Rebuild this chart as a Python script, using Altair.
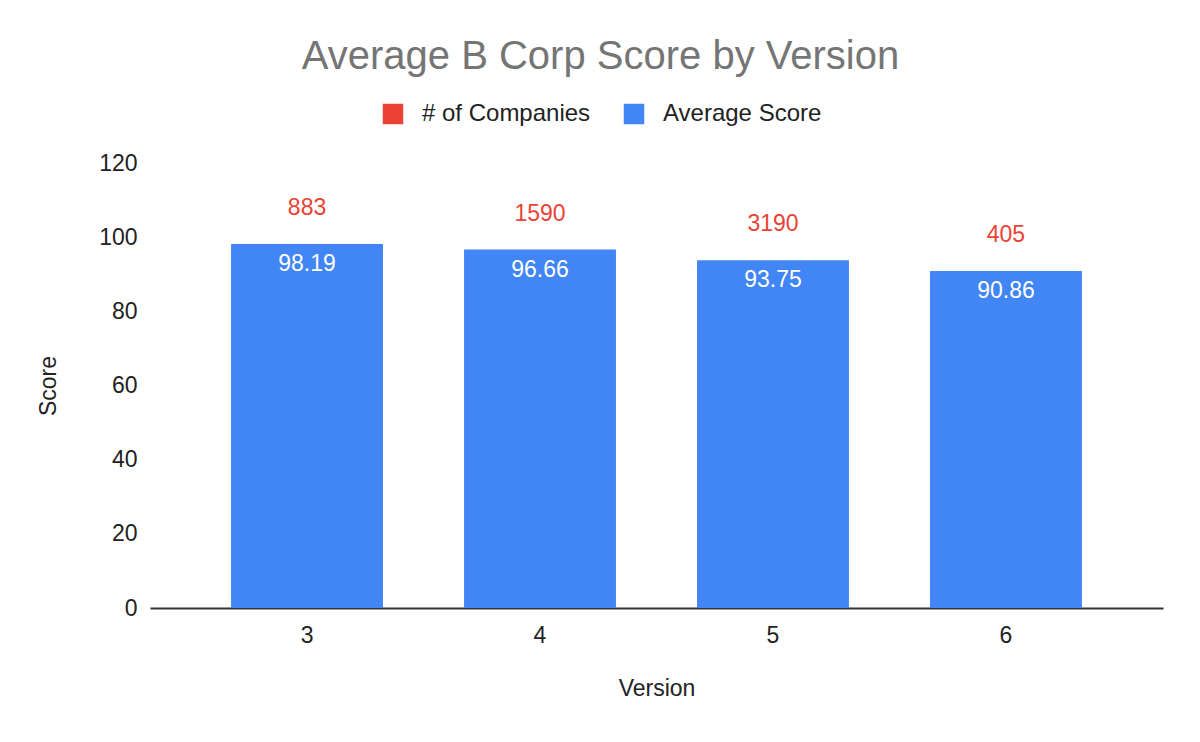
import altair as alt
import pandas as pd

versions = ["3", "4", "5", "6"]
avg_score = [98.19, 96.66, 93.75, 90.86]
companies = [883, 1590, 3190, 405]
series_names = ["# of Companies", "Average Score"]
series_colors = ["#EA4335", "#4285F4"]
y_ticks = [0, 20, 40, 60, 80, 100, 120]

df = pd.DataFrame({
    "Version": versions,
    "Score": avg_score,
    "ScoreLabel": [f"{v:.2f}" for v in avg_score],
    "Companies": [str(c) for c in companies],
    "Series": ["Average Score"] * len(versions),
})

FONT = "Liberation Sans"

x_enc = alt.X(
    "Version:N",
    sort=versions,
    scale=alt.Scale(paddingInner=0.348, paddingOuter=0.348),
    axis=alt.Axis(
        title="Version", labelAngle=0, ticks=False, labelPadding=16,
        labelFontSize=23, labelColor="#222222", labelFont=FONT,
        titleFontSize=23, titleColor="#222222", titleFont=FONT,
        titleFontWeight="normal", titlePadding=30,
        domainColor="#333333", domainWidth=2, grid=False,
    ),
)
y_enc = alt.Y(
    "Score:Q",
    scale=alt.Scale(domain=[0, 120], nice=False),
    axis=alt.Axis(
        title="Score", values=y_ticks, ticks=False, domain=False, grid=False,
        labelPadding=13, labelFontSize=23, labelColor="#222222", labelFont=FONT,
        titleFontSize=23, titleColor="#222222", titleFont=FONT,
        titleFontWeight="normal", titlePadding=38,
    ),
)

bars = alt.Chart(df).mark_bar().encode(
    x=x_enc,
    y=y_enc,
    color=alt.Color(
        "Series:N",
        scale=alt.Scale(domain=series_names, range=series_colors),
        legend=alt.Legend(
            title=None, orient="none", direction="horizontal",
            legendX=231, legendY=-61, symbolType="square", symbolSize=420,
            symbolStrokeWidth=0, labelFontSize=24, labelColor="#222222",
            labelFont=FONT, labelOffset=17, columnPadding=31, padding=0,
            labelLimit=400,
        ),
    ),
)

white_labels = alt.Chart(df).mark_text(
    dy=20, fontSize=23, font=FONT, color="white", baseline="middle"
).encode(x=alt.X("Version:N", sort=versions), y="Score:Q", text="ScoreLabel:N")

red_labels = alt.Chart(df).mark_text(
    dy=-36, fontSize=23, font=FONT, color="#EA4335", baseline="middle"
).encode(x=alt.X("Version:N", sort=versions), y="Score:Q", text="Companies:N")

chart = alt.layer(bars, white_labels, red_labels).properties(
    width=1013,
    height=445,
    title=alt.TitleParams(
        "Average B Corp Score by Version", fontSize=40, font=FONT,
        color="#757575", fontWeight="normal", anchor="middle", offset=25,
        dx=-56,
    ),
    autosize=alt.AutoSizeParams(type="none"),
    padding={"left": 142, "top": 155, "right": 29, "bottom": 100},
).configure_view(stroke=None)

chart.save("out.html", embed_options={"renderer": "svg", "actions": False})
